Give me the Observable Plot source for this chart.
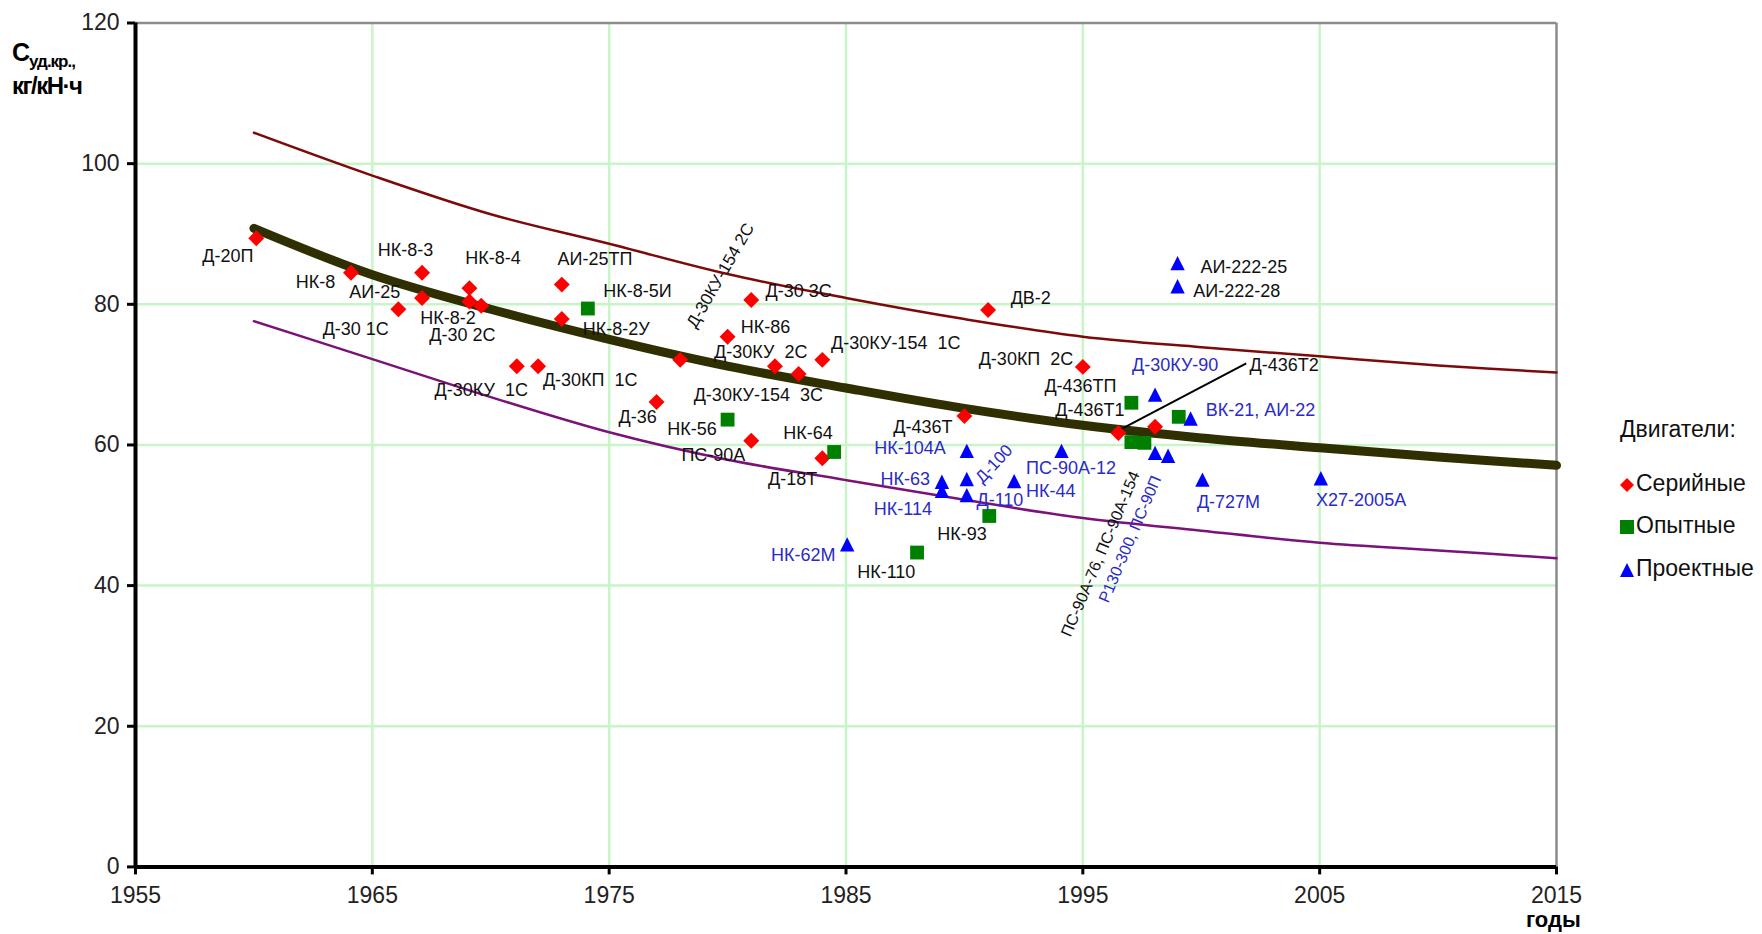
<!DOCTYPE html>
<html><head><meta charset="utf-8">
<script src="https://cdn.jsdelivr.net/npm/d3@7"></script>
<script src="https://cdn.jsdelivr.net/npm/@observablehq/plot@0.6"></script>
<style>
body{margin:0;background:#fff;font-family:"Liberation Sans",Arial,sans-serif;}
#wrap{position:relative;width:1762px;height:934px;overflow:hidden}
#chart svg{display:block}
.ov{position:absolute;color:#000;white-space:nowrap;line-height:1}
.leg{position:absolute;left:1620px;font-size:23px;color:#111;white-space:nowrap;line-height:1}
.leg svg{vertical-align:middle;margin-right:2px}
</style></head><body>
<div id="wrap">
<div id="chart"></div>
<div class="ov" style="left:12px;top:40px;font-weight:bold;font-size:25px;letter-spacing:-1px">С<span style="font-size:17px;position:relative;top:6px">уд.кр.,</span></div>
<div class="ov" style="left:12px;top:74px;font-weight:bold;font-size:24px;letter-spacing:-1.5px">кг/кН·ч</div>
<div class="ov" style="left:1526px;top:909px;font-weight:bold;font-size:22px">годы</div>
<div id="legend"></div>
</div>
<script>
// ---- data ----
const curveYears = [1960, 1965, 1970, 1975, 1980, 1985, 1990, 1995, 2000, 2005, 2010, 2015];
const upperCurve = [104.4, 98.3, 92.8, 88.6, 84.3, 80.9, 77.9, 75.4, 73.9, 72.6, 71.3, 70.3];
const meanCurve  = [90.8, 84.2, 79.3, 75.0, 71.2, 68.1, 65.2, 62.8, 61.0, 59.6, 58.3, 57.1];
const lowerCurve = [77.6, 72.2, 66.8, 61.8, 57.9, 55.0, 52.2, 49.6, 47.8, 46.1, 45.0, 43.9];

const serialEngines = [
  ["Д-20П", 1960.1, 89.4], ["НК-8", 1964.1, 84.5], ["НК-8-3", 1967.1, 84.5],
  ["АИ-25", 1967.1, 80.9], ["Д-30 1С", 1966.1, 79.3], ["НК-8-4", 1969.1, 82.3],
  ["НК-8-2", 1969.1, 80.4], ["Д-30 2С", 1969.6, 79.8], ["АИ-25ТП", 1973.0, 82.8],
  ["НК-8-2У", 1973.0, 77.9], ["Д-30КУ 1С", 1971.1, 71.2], ["Д-30КП 1С", 1972.0, 71.2],
  ["Д-30КУ-154 2С", 1978.0, 72.1], ["Д-36", 1977.0, 66.1], ["Д-30 3С", 1981.0, 80.6],
  ["НК-86", 1980.0, 75.4], ["Д-30КУ 2С", 1982.0, 71.2], ["Д-30КУ-154 3С", 1983.0, 70.1],
  ["Д-30КУ-154 1С", 1984.0, 72.1], ["ПС-90А", 1981.0, 60.6], ["Д-18Т", 1984.0, 58.1],
  ["ДВ-2", 1991.0, 79.2], ["Д-436Т", 1990.0, 64.1], ["Д-30КП 2С", 1995.0, 71.1],
  ["Д-436Т1", 1996.5, 61.7], ["Д-436Т2", 1998.05, 62.6]
];
const experimentalEngines = [
  ["НК-8-5И", 1974.1, 79.4], ["НК-56", 1980.0, 63.6], ["НК-64", 1984.5, 59.0],
  ["НК-110", 1988.0, 44.7], ["НК-93", 1991.05, 49.9], ["Д-436ТП", 1997.05, 66.0],
  ["ПС-90А-76", 1997.05, 60.4], ["ПС-90А-154", 1997.6, 60.3], ["—", 1999.05, 64.0]
];
const projectEngines = [
  ["НК-62М", 1985.05, 45.7], ["НК-104А", 1990.1, 59.0], ["НК-63", 1989.05, 54.6],
  ["НК-114", 1989.05, 53.3], ["Д-100", 1990.1, 55.0], ["Д-110", 1990.1, 52.7],
  ["НК-44", 1992.1, 54.7], ["ПС-90А-12", 1994.1, 59.0], ["Д-30КУ-90", 1998.05, 67.0],
  ["ВК-21, АИ-22", 1999.55, 63.6], ["Р130-300", 1998.05, 58.7], ["ПС-90П", 1998.6, 58.3],
  ["Д-727М", 2000.05, 54.9], ["Х27-2005А", 2005.05, 55.1],
  ["АИ-222-25", 1999.0, 85.7], ["АИ-222-28", 1999.0, 82.4]
];

// label texts with the place (year, value) where they stand in the picture
const blackLabels = [
  ["Д-20П", 1958.9, 86.9], ["НК-8", 1962.6, 83.2], ["НК-8-3", 1966.4, 87.7],
  ["АИ-25", 1965.1, 81.7], ["НК-8-4", 1970.1, 86.6], ["НК-8-2", 1968.2, 78.0],
  ["Д-30 1С", 1964.3, 76.5], ["Д-30 2С", 1968.8, 75.6], ["АИ-25ТП", 1974.4, 86.4],
  ["НК-8-5И", 1976.2, 81.8], ["НК-8-2У", 1975.3, 76.4], ["Д-30КУ  1С", 1969.6, 67.75],
  ["Д-30КП  1С", 1974.2, 69.2], ["Д-36", 1976.2, 63.9], ["НК-56", 1978.5, 62.3],
  ["ПС-90А", 1979.4, 58.6], ["Д-30КУ-154  3С", 1981.3, 67.1], ["Д-30КУ  2С", 1981.4, 73.2],
  ["НК-86", 1981.6, 76.7], ["Д-30 3С", 1983.0, 81.8], ["Д-30КУ-154  1С", 1987.1, 74.5],
  ["НК-64", 1983.4, 61.7], ["Д-18Т", 1982.75, 55.1], ["ДВ-2", 1992.8, 80.9],
  ["Д-30КП  2С", 1992.6, 72.2], ["Д-436ТП", 1994.9, 68.4], ["Д-436Т1", 1995.3, 64.9],
  ["Д-436Т", 1988.25, 62.5], ["Д-436Т2", 2003.5, 71.4], ["АИ-222-25", 2001.8, 85.2],
  ["АИ-222-28", 2001.5, 81.8], ["НК-93", 1989.9, 47.3], ["НК-110", 1986.7, 41.9]
];
const blueLabels = [
  ["Д-30КУ-90", 1998.9, 71.3], ["ВК-21, АИ-22", 2002.5, 64.9], ["НК-104А", 1987.7, 59.6],
  ["НК-63", 1987.5, 55.1], ["НК-114", 1987.4, 50.8], ["Д-110", 1991.5, 52.1],
  ["ПС-90А-12", 1994.5, 56.7], ["НК-44", 1993.65, 53.4], ["НК-62М", 1983.2, 44.3],
  ["Д-727М", 2001.15, 51.9], ["Х27-2005А", 2006.75, 52.1]
];
const slantLabels = [
  ["Д-30КУ-154 2С", 1979.7, 84.1], ["Д-100", 1991.25, 57.3],
  ["ПС-90А-76, ПС-90А-154", 1995.75, 44.5], ["Р130-300, ПС-90П", 1997.0, 46.6]
];
const leader = [[1996.6, 62.2, 2001.9, 71.6]];

const xTicks = [1955, 1965, 1975, 1985, 1995, 2005, 2015];
const yTicks = [0, 20, 40, 60, 80, 100, 120];
const legendItems = ["Серийные", "Опытные", "Проектные"];

// ---- marks ----
const diamond = {draw(c, s){const h = Math.sqrt(s) * 0.6; c.moveTo(0, -h); c.lineTo(h, 0); c.lineTo(0, h); c.lineTo(-h, 0); c.closePath();}};
const square = {draw(c, s){const h = Math.sqrt(s) * 0.52; c.rect(-h, -h, 2 * h, 2 * h);}};
const triangle = {draw(c, s){const w = Math.sqrt(s) * 1.08; c.moveTo(0, -w * 0.58); c.lineTo(w / 2, w * 0.42); c.lineTo(-w / 2, w * 0.42); c.closePath();}};

const curveRows = (vals) => curveYears.map((y, i) => ({x: y, v: vals[i]}));
const pts = (arr) => arr.map(([n, x, v]) => ({n, x, v}));
const BLUE = "#2a2ac8";

const plot = Plot.plot({
  width: 1762, height: 934,
  marginLeft: 135, marginRight: 206, marginTop: 22.5, marginBottom: 67.6,
  style: {fontFamily: "'Liberation Sans', Arial, sans-serif", fontSize: "23px", background: "#fff", color: "#222"},
  x: {domain: [1955, 2015], label: null},
  y: {domain: [0, 120], label: null},
  marks: [
    Plot.ruleY(yTicks.filter(d => d > 0 && d < 120), {stroke: "#c8f5c8", strokeWidth: 2.5}),
    Plot.ruleX(xTicks.filter(d => d > 1955 && d < 2015), {stroke: "#c8f5c8", strokeWidth: 2.5}),
    Plot.ruleY([120], {stroke: "#8c8c8c", strokeWidth: 2.5}),
    Plot.ruleX([2015], {stroke: "#8c8c8c", strokeWidth: 2.5}),
    Plot.line(curveRows(upperCurve), {x: "x", y: "v", stroke: "#7d0a0a", strokeWidth: 2.5, curve: "catmull-rom"}),
    Plot.line(curveRows(lowerCurve), {x: "x", y: "v", stroke: "#7a127a", strokeWidth: 2.5, curve: "catmull-rom"}),
    Plot.line(curveRows(meanCurve), {x: "x", y: "v", stroke: "#2f2f02", strokeWidth: 9, curve: "catmull-rom"}),
    Plot.link(leader, {x1: d => d[0], y1: d => d[1], x2: d => d[2], y2: d => d[3], stroke: "#000", strokeWidth: 2}),
    Plot.dot(pts(serialEngines), {x: "x", y: "v", r: 7.5, symbol: diamond, fill: "#ff0000", stroke: "none"}),
    Plot.dot(pts(experimentalEngines), {x: "x", y: "v", r: 7.5, symbol: square, fill: "#008000", stroke: "none"}),
    Plot.dot(pts(projectEngines), {x: "x", y: "v", r: 7.5, symbol: triangle, fill: "#0000ff", stroke: "none"}),
    Plot.text(pts(blackLabels), {x: "x", y: "v", text: "n", fill: "#111", fontSize: 18}),
    Plot.text(pts(blueLabels), {x: "x", y: "v", text: "n", fill: BLUE, fontSize: 18}),
    Plot.text(pts(slantLabels.slice(0, 1)), {x: "x", y: "v", text: "n", fill: "#111", fontSize: 17, rotate: -60}),
    Plot.text(pts(slantLabels.slice(1, 2)), {x: "x", y: "v", text: "n", fill: BLUE, fontSize: 17, rotate: -47}),
    Plot.text(pts(slantLabels.slice(2, 3)), {x: "x", y: "v", text: "n", fill: "#111", fontSize: 16, rotate: -67}),
    Plot.text(pts(slantLabels.slice(3, 4)), {x: "x", y: "v", text: "n", fill: BLUE, fontSize: 16, rotate: -67}),
    Plot.ruleY([0], {stroke: "#000", strokeWidth: 4}),
    Plot.ruleX([1955], {stroke: "#000", strokeWidth: 4}),
    Plot.axisX({ticks: xTicks, tickFormat: d => String(d), tickSize: 8, tickPadding: 12, strokeWidth: 3, stroke: "#000", label: null}),
    Plot.axisY({ticks: yTicks, tickFormat: d => String(d), tickSize: 8, tickPadding: 8, strokeWidth: 3, stroke: "#000", label: null})
  ]
});
document.getElementById("chart").appendChild(plot);

// legend (HTML, beside the chart)
const legendColors = ["#ff0000", "#008000", "#0000ff"];
const legendShapes = [
  "<polygon points='6,0 12,6 6,12 0,6'/>",
  "<rect x='0' y='0' width='12' height='12'/>",
  "<polygon points='6,0 12,12 0,12'/>"
];
const leg = document.getElementById("legend");
const head = document.createElement("div");
head.className = "leg"; head.style.top = "418px"; head.textContent = "Двигатели:";
leg.appendChild(head);
const tops = [472, 514, 557];
legendItems.forEach((name, i) => {
  const d = document.createElement("div");
  d.className = "leg"; d.style.top = tops[i] + "px";
  d.innerHTML = `<svg width="14" height="14" viewBox="0 0 12 12"><g fill="${legendColors[i]}">${legendShapes[i]}</g></svg>${name}`;
  leg.appendChild(d);
});
</script>
</body></html>
